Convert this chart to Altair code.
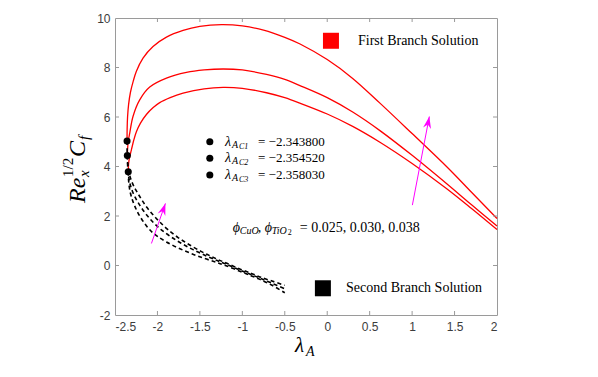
import altair as alt
import pandas as pd

# ---------------- data ----------------
phi_values = [0.025, 0.030, 0.038]
lam_crit = [-2.343800, -2.354520, -2.358030]
cf_crit = [3.79, 4.44, 5.03]

# First branch (solid red) curves
fb1_lam = [-2.3438, -2.340, -2.330, -2.307, -2.280, -2.248, -2.200, -2.130, -2.050, -1.973, -1.850, -1.698, -1.450, -1.226, -1.000, -0.715, -0.500, -0.322, 0.000, 0.300, 0.621, 1.000, 1.408, 1.700, 2.000]
fb1_val = [3.79, 4.10, 4.35, 4.67, 5.05, 5.40, 5.75, 6.10, 6.38, 6.58, 6.78, 6.96, 7.14, 7.20, 7.16, 6.98, 6.78, 6.56, 6.12, 5.62, 4.98, 4.12, 3.10, 2.30, 1.45]
fb2_lam = [-2.3545, -2.350, -2.340, -2.327, -2.288, -2.209, -2.091, -1.894, -1.658, -1.450, -1.226, -1.000, -0.715, -0.500, -0.322, 0.000, 0.300, 0.621, 1.000, 1.408, 1.700, 2.000]
fb2_val = [4.44, 4.80, 5.10, 5.34, 6.02, 6.69, 7.21, 7.57, 7.80, 7.90, 7.94, 7.90, 7.72, 7.52, 7.27, 6.78, 6.20, 5.45, 4.45, 3.30, 2.45, 1.60]
fb3_lam = [-2.3580, -2.357, -2.352, -2.340, -2.318, -2.285, -2.248, -2.170, -2.052, -1.894, -1.698, -1.501, -1.245, -1.000, -0.750, -0.500, -0.320, 0.000, 0.300, 0.621, 1.000, 1.408, 1.700, 2.000]
fb3_val = [5.03, 5.50, 6.00, 6.50, 7.00, 7.45, 7.85, 8.38, 8.85, 9.23, 9.50, 9.66, 9.73, 9.68, 9.51, 9.22, 8.95, 8.32, 7.56, 6.56, 5.33, 3.99, 2.96, 1.90]

# Second branch (dashed black) curves
sb1_lam = [-2.3438, -2.341, -2.334, -2.322, -2.300, -2.270, -2.230, -2.180, -2.120, -2.060, -2.000, -1.894, -1.750, -1.600, -1.450, -1.300, -1.200, -1.030, -0.900, -0.794, -0.650, -0.500]
sb1_val = [3.79, 3.50, 3.24, 2.98, 2.70, 2.42, 2.13, 1.84, 1.56, 1.34, 1.18, 0.95, 0.70, 0.48, 0.29, 0.12, 0.00, -0.23, -0.41, -0.56, -0.80, -1.10]
sb2_lam = [-2.3545, -2.352, -2.346, -2.336, -2.320, -2.295, -2.260, -2.215, -2.160, -2.100, -2.032, -1.950, -1.850, -1.720, -1.580, -1.420, -1.290, -1.200, -1.030, -0.900, -0.794, -0.650, -0.500]
sb2_val = [4.44, 4.10, 3.80, 3.52, 3.26, 3.00, 2.74, 2.47, 2.19, 1.93, 1.68, 1.43, 1.18, 0.90, 0.64, 0.38, 0.19, 0.07, -0.18, -0.36, -0.51, -0.72, -0.94]
sb3_lam = [-2.3580, -2.3575, -2.355, -2.349, -2.338, -2.320, -2.295, -2.262, -2.222, -2.175, -2.120, -2.050, -1.973, -1.880, -1.757, -1.620, -1.481, -1.380, -1.280, -1.190, -1.030, -0.900, -0.794, -0.650, -0.500]
sb3_val = [5.03, 4.70, 4.38, 4.08, 3.80, 3.56, 3.33, 3.10, 2.86, 2.60, 2.33, 2.04, 1.76, 1.46, 1.13, 0.83, 0.56, 0.39, 0.23, 0.10, -0.14, -0.31, -0.46, -0.63, -0.80]

x_ticks = [-2.5, -2, -1.5, -1, -0.5, 0, 0.5, 1, 1.5, 2]
y_ticks = [-2, 0, 2, 4, 6, 8, 10]

crit_labels = ["C1", "C2", "C3"]
crit_texts = ["= \u22122.343800", "= \u22122.354520", "= \u22122.358030"]

# annotation arrows (tail -> tip) in data coordinates
arrow_lam = [-2.071, 1.003]
arrow_val = [0.89, 2.44]
arrow_lam2 = [-1.906, 1.203]
arrow_val2 = [2.51, 6.02]
arrow_angle = [19, 11]

# ---------------- tables ----------------
def curve_table(pairs):
    frames = []
    for name, lam, val in pairs:
        frames.append(pd.DataFrame({"lam": lam, "val": val, "curve": name, "ord": range(len(lam))}))
    return pd.concat(frames, ignore_index=True)

first_df = curve_table([("f1", fb1_lam, fb1_val), ("f2", fb2_lam, fb2_val), ("f3", fb3_lam, fb3_val)])
second_df = curve_table([("s1", sb1_lam, sb1_val), ("s2", sb2_lam, sb2_val), ("s3", sb3_lam, sb3_val)])
crit_df = pd.DataFrame({"lam": lam_crit, "val": cf_crit})
arrow_df = pd.DataFrame({"lam": arrow_lam, "val": arrow_val, "lam2": arrow_lam2, "val2": arrow_val2, "ang": arrow_angle})
xt_df = pd.DataFrame({"t": x_ticks[1:-1]})
yt_df = pd.DataFrame({"t": y_ticks[1:-1]})

W, H = 382, 297
SERIF = "Liberation Serif"
AX_COLOR = "#9a9a9a"

xs = alt.Scale(domain=[-2.5, 2], nice=False, zero=False)
ys = alt.Scale(domain=[-2, 10], nice=False, zero=False)
xax = alt.Axis(values=x_ticks, labelExpr="datum.value + ''", labelPadding=6, title=None)
yax = alt.Axis(values=y_ticks, labelExpr="datum.value + ''", labelPadding=5, title=None)


def X(f="lam"):
    return alt.X(f + ":Q", scale=xs, axis=xax)


def Y(f="val"):
    return alt.Y(f + ":Q", scale=ys, axis=yax)


layers = []

# red first-branch lines
layers.append(
    alt.Chart(first_df).mark_line(color="#ff0000", strokeWidth=1.3, interpolate="catmull-rom").encode(
        x=X(), y=Y(), detail="curve:N", order="ord:Q")
)
# dashed second-branch lines
layers.append(
    alt.Chart(second_df).mark_line(color="black", strokeWidth=1.6, strokeDash=[4, 3], interpolate="catmull-rom").encode(
        x=X(), y=Y(), detail="curve:N", order="ord:Q")
)
# critical points
layers.append(
    alt.Chart(crit_df).mark_circle(color="black", size=50, opacity=1).encode(x=X(), y=Y())
)

# arrows
layers.append(
    alt.Chart(arrow_df).mark_rule(color="#ff00ff", strokeWidth=1).encode(
        x=X(), y=Y(), x2=alt.X2("lam2:Q"), y2=alt.Y2("val2:Q"))
)
HEAD = "M0,0 L0.67,2 L0,1.35 L-0.67,2 Z"
layers.append(
    alt.Chart(arrow_df).mark_point(shape=HEAD, filled=True, color="#ff00ff", size=144, opacity=1, strokeWidth=0).encode(
        x=X("lam2"), y=Y("val2"), angle=alt.Angle("ang:Q", scale=None))
)

# inward tick marks
tick_style = dict(color=AX_COLOR, strokeWidth=1)
layers.append(alt.Chart(xt_df).mark_rule(**tick_style).encode(x=X("t"), y=alt.value(H), y2=alt.value(H - 4)))
layers.append(alt.Chart(xt_df).mark_rule(**tick_style).encode(x=X("t"), y=alt.value(0), y2=alt.value(4)))
layers.append(alt.Chart(yt_df).mark_rule(**tick_style).encode(y=Y("t"), x=alt.value(0), x2=alt.value(4)))
layers.append(alt.Chart(yt_df).mark_rule(**tick_style).encode(y=Y("t"), x=alt.value(W), x2=alt.value(W - 4)))


def text_at(lam, val, parts, baseline="middle"):
    out = []
    for txt, dx, dy, size, style in parts:
        df = pd.DataFrame({"lam": [lam], "val": [val], "t": [txt]})
        out.append(
            alt.Chart(df).mark_text(align="left", baseline=baseline, dx=dx, dy=dy, fontSize=size,
                                    font=SERIF, fontStyle=style, color="black").encode(
                x=X(), y=Y(), text="t:N")
        )
    return out


def text_px(px, py, parts, angle=0):
    out = []
    for txt, dx, dy, size, style in parts:
        df = pd.DataFrame({"t": [txt]})
        out.append(
            alt.Chart(df).mark_text(align="left", baseline="alphabetic", dx=dx, dy=dy, fontSize=size,
                                    font=SERIF, fontStyle=style, color="black", angle=angle).encode(
                x=alt.value(px), y=alt.value(py), text="t:N")
        )
    return out


# legend of critical values
leg_y = [5.0, 4.33, 3.66]
layers.append(
    alt.Chart(pd.DataFrame({"lam": [-1.383] * 3, "val": leg_y})).mark_circle(color="black", size=50, opacity=1).encode(
        x=X(), y=Y())
)
for yv, sub, txt in zip(leg_y, crit_labels, crit_texts):
    layers += text_at(-1.204, yv, [
        ("\u03bb", 0, 0, 14, "italic"),
        ("A", 7, 3, 10, "italic"),
        (sub, 14, 5, 8, "italic"),
        (txt, 33, 0, 13, "normal"),
    ])

# phi annotation
layers += text_at(-1.112, 1.52, [
    ("\u03d5", 0, 0, 14, "italic"),
    ("CuO", 7, 3, 10, "italic"),
    (",", 25, 0, 14, "normal"),
    ("\u03d5", 32, 0, 14, "italic"),
    ("TiO", 39, 3, 10, "italic"),
    ("2", 55, 5, 8, "normal"),
    ("= 0.025, 0.030, 0.038", 67, 0, 14, "normal"),
])

# branch legend squares
sq_df = pd.DataFrame({"lam": [0.044, -0.051], "val": [9.08, -0.92], "c": ["first", "second"]})
layers.append(
    alt.Chart(sq_df).mark_square(size=256, opacity=1).encode(
        x=X(), y=Y(), color=alt.Color("c:N", scale=alt.Scale(domain=["first", "second"], range=["#ff0000", "black"]), legend=None))
)
layers += text_at(0.362, 9.08, [("First Branch Solution", 0, 0, 14, "normal")])
layers += text_at(0.221, -0.92, [("Second Branch Solution", 0, 0, 14, "normal")])

# axis titles
layers += text_px(180, 334, [("\u03bb", 0, 0, 21, "italic"), ("A", 11, 4, 14, "italic")])
layers += text_px(-30, 185, [
    ("Re", 0, 0, 24, "italic"),
    ("1/2", 26, -12, 15, "normal"),
    ("x", 26, 4, 15, "italic"),
    ("C", 46, 0, 24, "italic"),
    ("f", 63, 4, 15, "italic"),
], angle=270)

chart = alt.layer(*layers).properties(
    width=W, height=H,
    autosize=alt.AutoSizeParams(type="none"),
    padding={"left": 107, "top": 10, "right": 90, "bottom": 52},
    background="white",
).configure_view(stroke=AX_COLOR, strokeWidth=1).configure_axis(
    domain=False, ticks=False, tickSize=0, grid=False,
    labelFont="Liberation Sans", labelFontSize=12, labelColor="#3c3c3c",
)

chart.save("out.html", embed_options={"renderer": "svg", "actions": False})
